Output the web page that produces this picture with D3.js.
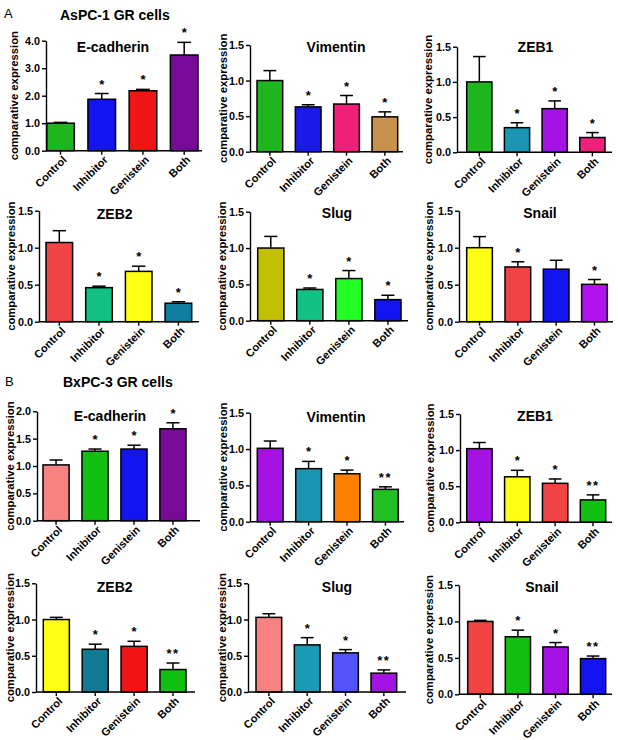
<!DOCTYPE html>
<html>
<head>
<meta charset="utf-8">
<script src="https://cdn.jsdelivr.net/npm/d3@7"></script>
<style>
  html, body { margin: 0; padding: 0; background: #fff; }
  svg { display: block; font-family: "Liberation Sans", Arial, sans-serif; }
</style>
</head>
<body>
<svg id="chart" width="618" height="740"></svg>
<script>
// ---------------- DATA ----------------
const categories = ["Control", "Inhibitor", "Genistein", "Both"];
const panelNames = ["E-cadherin", "Vimentin", "ZEB1", "ZEB2", "Slug", "Snail"];
const groupLetters = ["A", "B"];
const groupTitles = ["AsPC-1 GR cells", "BxPC-3 GR cells"];
const yLabel = "comparative expression";

// tick label sets
const ticksTo4 = [0, 1, 2, 3, 4];
const ticksTo2 = [0, 0.5, 1, 1.5, 2];
const ticksTo15 = [0, 0.5, 1, 1.5];

// Group A (AsPC-1 GR cells)
const aMeans = [
  [1.00, 1.87, 2.18, 3.48],
  [1.00, 0.63, 0.67, 0.49],
  [1.00, 0.35, 0.62, 0.21],
  [1.07, 0.46, 0.68, 0.25],
  [1.00, 0.43, 0.58, 0.29],
  [1.00, 0.74, 0.71, 0.505]
];
const aErrors = [
  [0.03, 0.21, 0.05, 0.46],
  [0.14, 0.03, 0.12, 0.07],
  [0.36, 0.07, 0.11, 0.07],
  [0.16, 0.02, 0.07, 0.02],
  [0.16, 0.02, 0.11, 0.06],
  [0.15, 0.07, 0.12, 0.065]
];
const aSig = [
  ["", "*", "*", "*"],
  ["", "*", "*", "*"],
  ["", "*", "*", "*"],
  ["", "*", "*", "*"],
  ["", "*", "*", "*"],
  ["", "*", "", "*"]
];
const aTicks = [ticksTo4, ticksTo15, ticksTo15, ticksTo15, ticksTo15, ticksTo15];

// Group B (BxPC-3 GR cells)
const bMeans = [
  [1.02, 1.27, 1.31, 1.68],
  [1.01, 0.73, 0.66, 0.445],
  [1.02, 0.63, 0.54, 0.31],
  [1.00, 0.59, 0.63, 0.31],
  [1.03, 0.65, 0.54, 0.26],
  [1.00, 0.79, 0.65, 0.49]
];
const bErrors = [
  [0.09, 0.04, 0.07, 0.11],
  [0.10, 0.10, 0.05, 0.035],
  [0.085, 0.09, 0.06, 0.07],
  [0.03, 0.07, 0.07, 0.09],
  [0.05, 0.10, 0.045, 0.045],
  [0.015, 0.09, 0.06, 0.035]
];
const bSig = [
  ["", "*", "*", "*"],
  ["", "*", "*", "**"],
  ["", "*", "*", "**"],
  ["", "*", "*", "**"],
  ["", "*", "*", "**"],
  ["", "*", "*", "**"]
];
const bTicks = [ticksTo2, ticksTo15, ticksTo15, ticksTo15, ticksTo15, ticksTo15];

// ---------------- STYLES ----------------
const aColors = [
  ["#1fb51f", "#1414f0", "#f01414", "#780a98"],
  ["#1fb51f", "#1a1ae8", "#f0207a", "#c8924c"],
  ["#1fb51f", "#1a96b4", "#a412e4", "#f0207a"],
  ["#f24444", "#12c282", "#ffff14", "#107ea0"],
  ["#c2c000", "#12c282", "#22ff22", "#1414f0"],
  ["#ffff14", "#f24444", "#1414f0", "#b012f0"]
];
const bColors = [
  ["#f88282", "#12c012", "#1414f0", "#780a98"],
  ["#a412e4", "#1a96b4", "#ff8000", "#22c022"],
  ["#a412e4", "#ffff14", "#f24444", "#12c012"],
  ["#ffff14", "#107a94", "#f01414", "#12c012"],
  ["#f88282", "#1a9ab4", "#5252f8", "#a412e4"],
  ["#f24444", "#12c012", "#a412e4", "#1414f0"]
];

// ---------------- LAYOUT ----------------
// xl/xr: x-axis extent, yt/yb: top tick / zero, bs/be: bar span, tx/ty: title, yo: y-label offset
const layout = [
  {xl: 46,  xr: 202, yt: 40.7,  yb: 150.7, bs: 46.7,  be: 198,   tx: 113,   ty: 51.7,  yo: 28},
  {xl: 250, xr: 403, yt: 45,    yb: 151.7, bs: 257,   be: 397.7, tx: 336,   ty: 52.3,  yo: 23},
  {xl: 457, xr: 612, yt: 46.7,  yb: 152.3, bs: 466.7, be: 605,   tx: 535.5, ty: 51.7,  yo: 25},
  {xl: 39,  xr: 199, yt: 210.7, yb: 321.7, bs: 46,    be: 191.7, tx: 114.7, ty: 219,   yo: 24},
  {xl: 250, xr: 408, yt: 211.7, yb: 320.7, bs: 257.7, be: 401,   tx: 337,   ty: 218,   yo: 24},
  {xl: 459, xr: 613, yt: 210.7, yb: 321.7, bs: 466.7, be: 607.3, tx: 540,   ty: 217.5, yo: 26},
  {xl: 37,  xr: 200, yt: 411.3, yb: 520.7, bs: 43,    be: 186,   tx: 110,   ty: 421,   yo: 23},
  {xl: 250, xr: 404, yt: 412.7, yb: 521.7, bs: 257.3, be: 398.3, tx: 336,   ty: 421.7, yo: 23},
  {xl: 460, xr: 612, yt: 414,   yb: 522.3, bs: 466.7, be: 605.7, tx: 535,   ty: 421,   yo: 26},
  {xl: 36,  xr: 195, yt: 583.3, yb: 692,   bs: 43.3,  be: 186,   tx: 114.7, ty: 591.7, yo: 22},
  {xl: 248, xr: 406, yt: 583.3, yb: 692,   bs: 256,   be: 396.7, tx: 337,   ty: 591.7, yo: 22},
  {xl: 459, xr: 612, yt: 585,   yb: 694.3, bs: 467.7, be: 605.7, tx: 542,   ty: 591.7, yo: 26}
];
const headerPos = [
  {lx: 4, ly: 18, tx: 60, ty: 20},
  {lx: 5, ly: 386, tx: 63, ty: 386.5}
];

const svg = d3.select("#chart");
const fmt = d3.format(".1f");

function drawPanel(L, name, means, errs, sig, colors, ticks) {
  const g = svg.append("g");
  const y = d3.scaleLinear().domain([0, ticks[ticks.length - 1]]).range([L.yb, L.yt]);
  const x = d3.scaleBand().domain(categories).range([L.bs, L.be]).paddingInner(0.33).paddingOuter(0);
  const bw = x.bandwidth();
  const rows = categories.map((c, i) => ({c, m: means[i], e: errs[i], s: sig[i], col: colors[i]}));

  // error bars
  const eb = g.append("g").attr("stroke", "#000").attr("stroke-width", 1.5).attr("fill", "none");
  eb.selectAll("line.v").data(rows).join("line").attr("class", "v")
    .attr("x1", d => x(d.c) + bw / 2).attr("x2", d => x(d.c) + bw / 2)
    .attr("y1", d => y(d.m)).attr("y2", d => y(d.m + d.e));
  eb.selectAll("line.h").data(rows).join("line").attr("class", "h")
    .attr("x1", d => x(d.c) + bw / 2 - bw * 0.25).attr("x2", d => x(d.c) + bw / 2 + bw * 0.25)
    .attr("y1", d => y(d.m + d.e)).attr("y2", d => y(d.m + d.e));

  // bars
  g.selectAll("rect.bar").data(rows).join("rect").attr("class", "bar")
    .attr("x", d => x(d.c)).attr("width", bw)
    .attr("y", d => y(d.m)).attr("height", d => L.yb - y(d.m))
    .attr("fill", d => d.col).attr("stroke", "#000").attr("stroke-width", 1.5);

  // significance stars
  g.selectAll("text.sig").data(rows.filter(d => d.s)).join("text").attr("class", "sig")
    .attr("x", d => x(d.c) + bw / 2).attr("y", d => y(d.m + d.e) - 5)
    .attr("text-anchor", "middle").attr("font-size", 13).attr("font-weight", "bold")
    .attr("letter-spacing", d => d.s.length > 1 ? 1.5 : 0)
    .text(d => d.s);

  // y axis
  const ya = g.append("g").attr("transform", `translate(${L.xl},0)`)
    .call(d3.axisLeft(y).tickValues(ticks).tickFormat(fmt).tickSize(4).tickSizeOuter(0).tickPadding(2));
  ya.select(".domain").attr("stroke-width", 1.4);
  ya.selectAll(".tick line").attr("stroke-width", 1.4);
  ya.selectAll(".tick text").attr("font-size", 10.8).attr("font-weight", "bold")
    .attr("font-family", "Liberation Sans, Arial, sans-serif").attr("fill", "#000");

  // x axis
  const xa = g.append("g").attr("transform", `translate(0,${L.yb})`)
    .call(d3.axisBottom(x).tickSize(4).tickSizeOuter(0));
  xa.select(".domain").attr("d", `M${L.xl},0H${L.xr}`).attr("stroke-width", 1.4);
  xa.selectAll(".tick line").attr("stroke-width", 1.4);
  xa.selectAll(".tick text")
    .attr("y", 0).attr("x", 0).attr("dy", "0.75em")
    .attr("transform", "translate(1,4) rotate(-45)")
    .attr("text-anchor", "end")
    .attr("font-size", 11).attr("font-weight", "bold")
    .attr("font-family", "Liberation Sans, Arial, sans-serif").attr("fill", "#000");

  // y label
  g.append("text")
    .attr("transform", `translate(${L.xl - L.yo},${(L.yt + L.yb) / 2}) rotate(-90)`)
    .attr("text-anchor", "middle").attr("font-size", 11.3).attr("font-weight", "bold")
    .text(yLabel);

  // title
  g.append("text").attr("x", L.tx).attr("y", L.ty).attr("text-anchor", "middle")
    .attr("font-size", 14).attr("font-weight", "bold").text(name);
}

const groups = [
  {means: aMeans, errs: aErrors, sig: aSig, colors: aColors, ticks: aTicks},
  {means: bMeans, errs: bErrors, sig: bSig, colors: bColors, ticks: bTicks}
];

groups.forEach((G, gi) => {
  const H = headerPos[gi];
  svg.append("text").attr("x", H.lx).attr("y", H.ly).attr("font-size", 13).text(groupLetters[gi]);
  svg.append("text").attr("x", H.tx).attr("y", H.ty).attr("font-size", 14).attr("font-weight", "bold")
    .text(groupTitles[gi]);
  panelNames.forEach((name, pi) => {
    drawPanel(layout[gi * 6 + pi], name, G.means[pi], G.errs[pi], G.sig[pi], G.colors[pi], G.ticks[pi]);
  });
});
</script>
</body>
</html>
